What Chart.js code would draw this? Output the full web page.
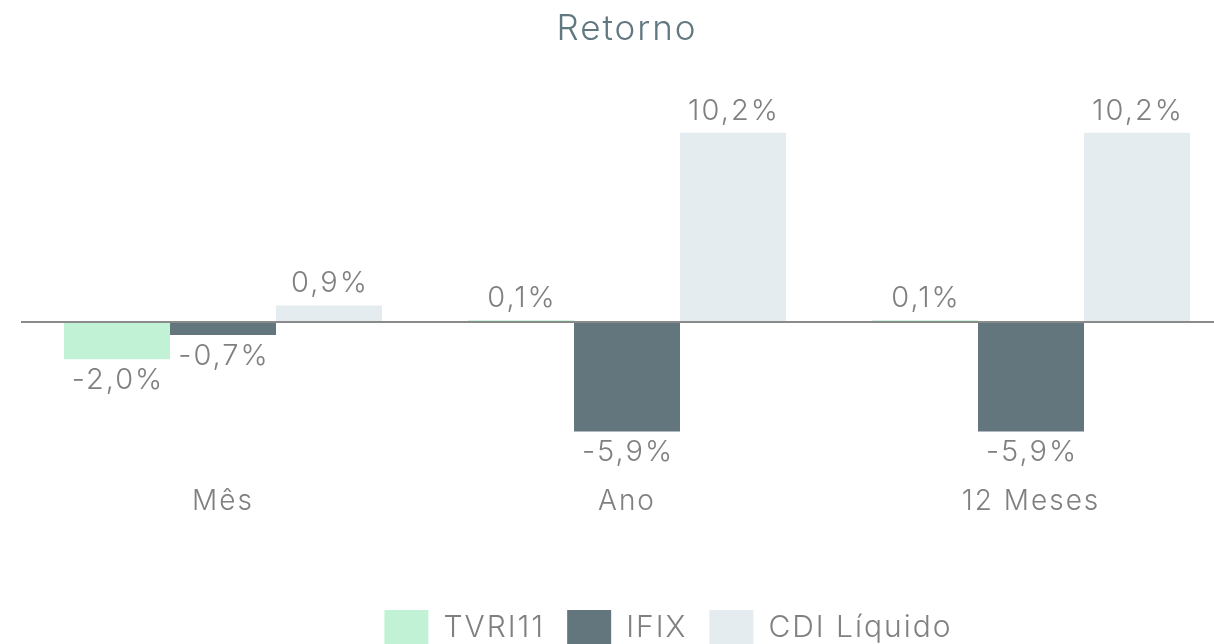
<!DOCTYPE html>
<html>
<head>
<meta charset="utf-8">
<script src="https://cdn.jsdelivr.net/npm/chart.js@4/dist/chart.umd.min.js"></script>
<style>
  html, body { margin: 0; padding: 0; background: #ffffff; overflow: hidden; width: 1214px; height: 644px; }
  #wrap { position: absolute; left: 0; top: 0; }
</style>
</head>
<body>
<div id="wrap"><canvas id="c" width="1316" height="656"></canvas></div>
<script>
const categories = ['Mês', 'Ano', '12 Meses'];
const seriesNames = ['TVRI11', 'IFIX', 'CDI Líquido'];
const tvri11 = [-2.0, 0.1, 0.1];
const ifix = [-0.7, -5.9, -5.9];
const cdiLiquido = [0.9, 10.2, 10.2];
const titleText = 'Retorno';

const FONT = "Inter, 'Noto Sans', sans-serif";
const TEXT_GREY = '#808080';
const SPACING = '2px';

const spacingPlugin = {
  id: 'spacing',
  beforeLayout(chart) { chart.ctx.letterSpacing = SPACING; },
  beforeDraw(chart) { chart.ctx.letterSpacing = SPACING; }
};

const valueLabels = {
  id: 'valueLabels',
  afterDatasetsDraw(chart) {
    const ctx = chart.ctx;
    ctx.save();
    ctx.font = '300 29px ' + FONT;
    ctx.fillStyle = TEXT_GREY;
    ctx.textAlign = 'center';
    ctx.textBaseline = 'middle';
    chart.data.datasets.forEach((ds, di) => {
      const meta = chart.getDatasetMeta(di);
      meta.data.forEach((bar, i) => {
        const v = ds.data[i];
        const txt = v.toFixed(1).replace('.', ',') + '%';
        const y = v >= 0 ? Math.min(bar.y, bar.base) - 22 : Math.max(bar.y, bar.base) + 21;
        ctx.fillText(txt, bar.x + 1, y);
      });
    });
    ctx.restore();
  }
};

new Chart(document.getElementById('c'), {
  type: 'bar',
  data: {
    labels: categories,
    datasets: [
      { label: seriesNames[0], data: tvri11, backgroundColor: '#c2f2d6' },
      { label: seriesNames[1], data: ifix, backgroundColor: '#63767e' },
      { label: seriesNames[2], data: cdiLiquido, backgroundColor: '#e4ecef' }
    ]
  },
  options: {
    responsive: false,
    devicePixelRatio: 1,
    animation: false,
    layout: { padding: { left: 21, right: 0, top: 0, bottom: 0 } },
    datasets: { bar: { categoryPercentage: 0.787, barPercentage: 1.0 } },
    plugins: {
      tooltip: { enabled: false },
      title: {
        display: true,
        text: titleText,
        color: '#627880',
        fullSize: false,
        font: { family: FONT, size: 35, weight: '300', lineHeight: 1.2 },
        padding: { top: 8, bottom: 68 }
      },
      legend: {
        position: 'bottom',
        labels: {
          boxWidth: 44,
          boxHeight: 36,
          padding: 22,
          color: TEXT_GREY,
          font: { family: FONT, size: 30, weight: '300' }
        }
      }
    },
    scales: {
      x: {
        grid: { display: false, drawTicks: false },
        border: { display: false },
        ticks: { color: TEXT_GREY, padding: 33, font: { family: FONT, size: 28, weight: '300' } },
        afterFit: (s) => { s.height = 136; }
      },
      y: {
        position: 'right',
        min: -7,
        max: 11,
        ticks: { display: false, stepSize: 1 },
        border: { display: false },
        grid: {
          drawTicks: false,
          lineWidth: 2,
          color: (c) => (c.tick && c.tick.value === 0 ? '#8a8a8a' : 'rgba(0,0,0,0)')
        },
        afterFit: (s) => { s.width = 83; }
      }
    }
  },
  plugins: [spacingPlugin, valueLabels]
});
</script>
</body>
</html>
